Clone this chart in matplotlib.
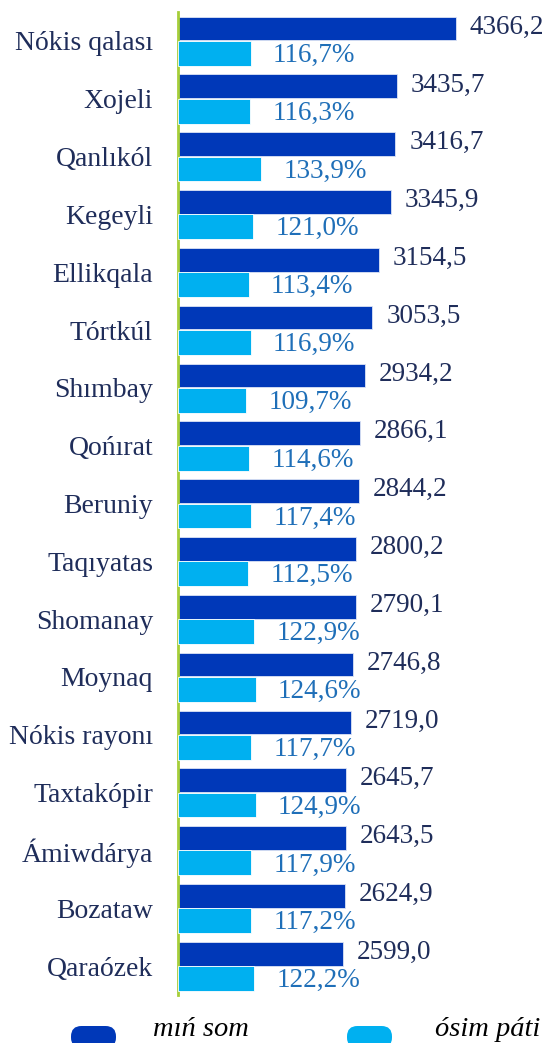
import matplotlib.pyplot as plt
from matplotlib.patches import FancyBboxPatch
import numpy as np

plt.rcParams['font.family'] = ['Liberation Serif', 'DejaVu Serif']

districts = ["Nókis qalası", "Xojeli", "Qanlıkól", "Kegeyli", "Ellikqala",
             "Tórtkúl", "Shımbay", "Qońırat", "Beruniy", "Taqıyatas",
             "Shomanay", "Moynaq", "Nókis rayonı", "Taxtakópir", "Ámiwdárya",
             "Bozataw", "Qaraózek"]
min_som = [4366.2, 3435.7, 3416.7, 3345.9, 3154.5, 3053.5, 2934.2, 2866.1,
           2844.2, 2800.2, 2790.1, 2746.8, 2719.0, 2645.7, 2643.5, 2624.9,
           2599.0]
osim_pati = [116.7, 116.3, 133.9, 121.0, 113.4, 116.9, 109.7, 114.6, 117.4,
             112.5, 122.9, 124.6, 117.7, 124.9, 117.9, 117.2, 122.2]

dark = '#0038B8'
light = '#00B0F0'
navy = '#1F2D5A'
pct_col = '#1F6FB8'

W, H = 547, 1043
fig = plt.figure(figsize=(W / 100, H / 100), dpi=100)
ax = fig.add_axes([178 / W, 1 - 995 / H, 1 - 178 / W, (995 - 12) / H])
ax2 = ax.twiny()

y = np.arange(len(districts))
off = 0.215
ax.barh(y - off, min_som, height=0.41, color=dark, edgecolor='#DCE3F5', linewidth=0.6)
ax2.barh(y + off, osim_pati, height=0.43, color=light, edgecolor='white', linewidth=0.6)

ax.set_xlim(0, 5800)
ax2.set_xlim(0, 593)
ax.set_ylim(len(districts) - 0.5, -0.5)

fmt = lambda v: f"{v:.1f}".replace('.', ',')
for yi, v in zip(y, min_som):
    ax.annotate(fmt(v), (v, yi - off), xytext=(10, 1), textcoords='offset points',
                ha='left', va='center', fontsize=19.5, color=navy)
for yi, v in zip(y, osim_pati):
    ax2.annotate(fmt(v) + '%', (v, yi + off), xytext=(16, -1.5), textcoords='offset points',
                 ha='left', va='center', fontsize=19.5, color=pct_col)

ax.set_yticks(y)
ax.set_yticklabels(districts, fontsize=20, color=navy)
ax.tick_params(axis='y', length=0, pad=18)
ax.set_xticks([])
ax2.set_xticks([])
for a in (ax, ax2):
    for s in ('top', 'right', 'bottom', 'left'):
        a.spines[s].set_visible(False)
ax.spines['left'].set_visible(True)
ax.spines['left'].set_color('#A6CE39')
ax.spines['left'].set_linewidth(2)

# legend drawn at the bottom edge
for x0, col, label, tx in [(71, dark, 'mıń som', 153), (347, light, 'ósim páti', 435)]:
    p = FancyBboxPatch((x0 / W, (H - 1048) / H), 45 / W, 22 / H,
                       boxstyle='round,pad=0,rounding_size=0.019',
                       mutation_aspect=W / H,
                       transform=fig.transFigure, facecolor=col, edgecolor='none')
    fig.add_artist(p)
    fig.text(tx / W, 1 - 1036 / H, label, fontsize=20.5, style='italic',
             color='black', ha='left', va='baseline')

fig.savefig('out.png', dpi=100)
